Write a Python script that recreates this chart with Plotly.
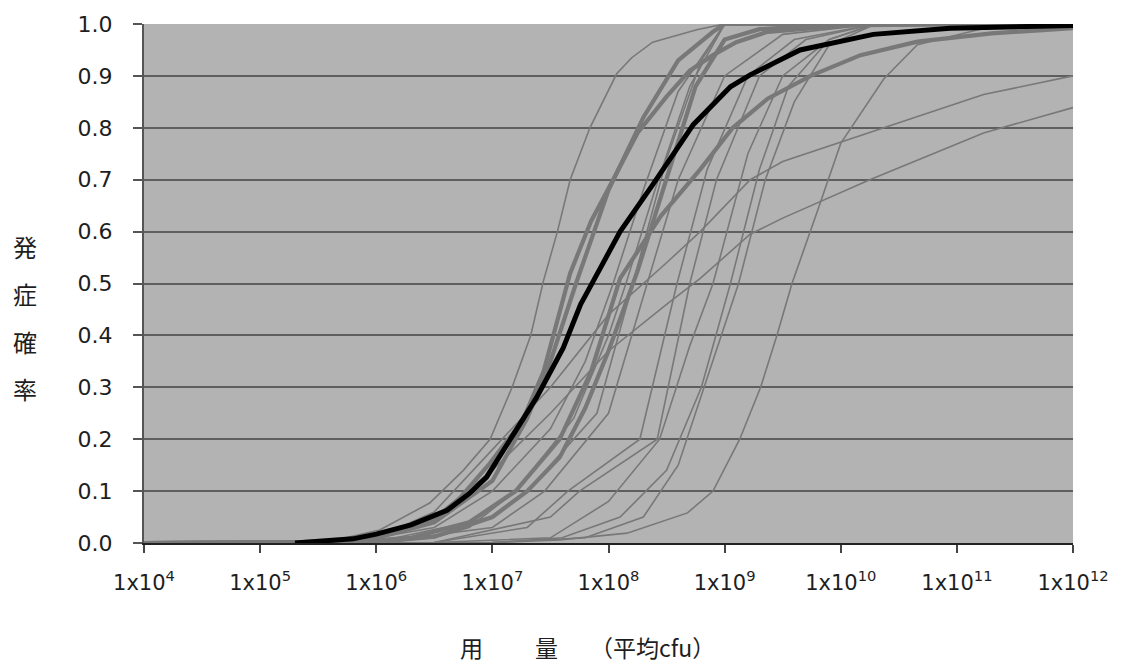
import plotly.graph_objects as go

# ---------------- data (log10 dose, probability) ----------------
mean_log_dose = [5.3, 5.6, 5.8, 6.0, 6.3, 6.61, 6.8, 6.95, 7.15, 7.38, 7.61, 7.76, 7.87, 8.1, 8.38, 8.73, 9.05, 9.22, 9.65, 10.28, 10.94, 12]
mean_prob     = [0.0, 0.004, 0.008, 0.017, 0.035, 0.063, 0.095, 0.127, 0.198, 0.28, 0.376, 0.46, 0.505, 0.6, 0.69, 0.806, 0.879, 0.902, 0.95, 0.98, 0.992, 0.997]

a_log_dose = [4, 5, 5.7, 6.03, 6.46, 6.75, 6.98, 7.17, 7.33, 7.44, 7.56, 7.67, 7.84, 8.07, 8.2, 8.38, 8.76, 9.0, 12]
a_prob     = [0, 0, 0.008, 0.025, 0.077, 0.14, 0.2, 0.3, 0.4, 0.505, 0.6, 0.7, 0.8, 0.904, 0.935, 0.965, 0.989, 1.0, 1.0]

b1_log_dose = [4, 5.5, 6.0, 6.3, 6.61, 6.98, 7.26, 7.44, 7.67, 7.85, 8.04, 8.25, 8.5, 8.7, 8.9, 9.1, 9.37, 10.08, 12]
b1_prob     = [0, 0.002, 0.012, 0.03, 0.058, 0.154, 0.236, 0.33, 0.52, 0.62, 0.70, 0.79, 0.86, 0.91, 0.94, 0.965, 0.985, 0.998, 1.0]

b2_log_dose = [4, 5.5, 6.0, 6.5, 7.0, 7.3, 7.5, 7.72, 8.0, 8.3, 8.6, 8.9, 9.0, 12]
b2_prob     = [0, 0.002, 0.01, 0.04, 0.12, 0.24, 0.35, 0.5, 0.68, 0.82, 0.93, 0.985, 1.0, 1.0]

c_log_dose = [4, 5.8, 6.3, 6.8, 7.2, 7.58, 7.85, 8.1, 8.45, 8.79, 9.07, 9.37, 9.74, 10.17, 10.66, 11.3, 12]
c_prob     = [0, 0.002, 0.01, 0.04, 0.1, 0.2, 0.33, 0.51, 0.63, 0.72, 0.80, 0.856, 0.90, 0.94, 0.966, 0.982, 0.992]

d_log_dose = [4, 6.0, 6.5, 7.0, 7.3, 7.58, 7.8, 8.0, 8.25, 8.5, 8.75, 9.0, 9.3, 10, 12]
d_prob     = [0, 0.002, 0.012, 0.05, 0.1, 0.165, 0.26, 0.37, 0.524, 0.7, 0.88, 0.97, 0.99, 1.0, 1.0]

e1_log_dose = [4, 5.5, 6.0, 6.5, 7.0, 7.5, 7.8, 8.04, 8.3, 8.6, 9.0, 12]
e1_prob     = [0, 0.002, 0.01, 0.03, 0.1, 0.22, 0.35, 0.5, 0.68, 0.87, 1.0, 1.0]

e2_log_dose = [4, 6.0, 6.5, 6.8, 7.2, 7.7, 8.0, 8.15, 8.4, 8.7, 9.0, 12]
e2_prob     = [0, 0.001, 0.01, 0.03, 0.1, 0.24, 0.4, 0.5, 0.68, 0.88, 1.0, 1.0]

e3_log_dose = [4, 6.0, 7.0, 7.3, 7.9, 8.21, 8.5, 8.8, 9.0, 12]
e3_prob     = [0, 0.002, 0.05, 0.1, 0.25, 0.5, 0.74, 0.93, 1.0, 1.0]

e4_log_dose = [4, 6.0, 7.0, 7.45, 8.0, 8.33, 8.6, 9.0, 9.5, 10.3, 12]
e4_prob     = [0, 0.001, 0.03, 0.1, 0.25, 0.5, 0.7, 0.9, 0.98, 1.0, 1.0]

e5_log_dose = [4, 6.5, 7.3, 7.65, 8.27, 8.59, 8.85, 9.2, 9.6, 10.3, 12]
e5_prob     = [0, 0.001, 0.03, 0.1, 0.2, 0.5, 0.72, 0.9, 0.97, 1.0, 1.0]

e6_log_dose = [4, 6.5, 7.5, 7.75, 8.42, 8.70, 8.93, 9.3, 9.7, 10.3, 12]
e6_prob     = [0, 0.001, 0.05, 0.1, 0.2, 0.5, 0.7, 0.9, 0.97, 1.0, 1.0]

e7_log_dose = [4, 6.5, 7.5, 8.0, 8.44, 8.7, 8.9, 9.2, 9.5, 9.9, 10.3, 12]
e7_prob     = [0, 0.001, 0.01, 0.08, 0.2, 0.38, 0.5, 0.75, 0.9, 0.97, 1.0, 1.0]

e8_log_dose = [4, 7.0, 7.6, 8.1, 8.5, 8.8, 9.05, 9.3, 9.55, 9.9, 10.3, 12]
e8_prob     = [0, 0.001, 0.01, 0.05, 0.14, 0.3, 0.5, 0.72, 0.88, 0.97, 1.0, 1.0]

e9_log_dose = [4, 7.0, 7.8, 8.3, 8.6, 8.9, 9.12, 9.35, 9.6, 9.9, 10.3, 12]
e9_prob     = [0, 0.001, 0.01, 0.05, 0.15, 0.35, 0.5, 0.7, 0.85, 0.96, 1.0, 1.0]

r_log_dose = [4, 7.0, 7.58, 8.16, 8.68, 8.90, 9.13, 9.31, 9.45, 9.58, 9.8, 10.0, 10.37, 10.66, 11.2, 12]
r_prob     = [0, 0.001, 0.006, 0.019, 0.058, 0.1, 0.2, 0.3, 0.4, 0.5, 0.64, 0.77, 0.894, 0.96, 0.99, 1.0]

s1_log_dose = [4, 5.5, 6.0, 6.5, 7.0, 7.5, 8.0, 8.5, 8.79, 9.22, 9.5, 10.37, 11.23, 12]
s1_prob     = [0, 0.002, 0.01, 0.06, 0.18, 0.3, 0.44, 0.54, 0.6, 0.70, 0.735, 0.80, 0.864, 0.90]

s2_log_dose = [4, 5.5, 6.0, 6.5, 7.0, 7.5, 8.0, 8.5, 8.79, 9.22, 9.5, 10.25, 11.23, 12]
s2_prob     = [0, 0.002, 0.01, 0.05, 0.14, 0.25, 0.37, 0.46, 0.51, 0.595, 0.626, 0.70, 0.79, 0.839]

x_tick_exponents = [4, 5, 6, 7, 8, 9, 10, 11, 12]
y_tick_values = [0.0, 0.1, 0.2, 0.3, 0.4, 0.5, 0.6, 0.7, 0.8, 0.9, 1.0]

# ---------------- figure ----------------
GRAY = "#787878"
thin_curves = [
    (a_log_dose, a_prob), (e1_log_dose, e1_prob), (e2_log_dose, e2_prob),
    (e3_log_dose, e3_prob), (e4_log_dose, e4_prob), (e5_log_dose, e5_prob),
    (e6_log_dose, e6_prob), (e7_log_dose, e7_prob), (e8_log_dose, e8_prob),
    (e9_log_dose, e9_prob), (r_log_dose, r_prob), (s1_log_dose, s1_prob),
    (s2_log_dose, s2_prob),
]
thick_curves = [
    (b1_log_dose, b1_prob), (b2_log_dose, b2_prob),
    (c_log_dose, c_prob), (d_log_dose, d_prob),
]

fig = go.Figure()
for lx, p in thin_curves:
    fig.add_trace(go.Scatter(x=[10 ** v for v in lx], y=p, mode="lines",
                             line=dict(color=GRAY, width=1.6), showlegend=False,
                             hoverinfo="skip"))
for lx, p in thick_curves:
    fig.add_trace(go.Scatter(x=[10 ** v for v in lx], y=p, mode="lines",
                             line=dict(color=GRAY, width=4.2), showlegend=False,
                             hoverinfo="skip"))
fig.add_trace(go.Scatter(x=[10 ** v for v in mean_log_dose], y=mean_prob, mode="lines",
                         line=dict(color="#000000", width=5), showlegend=False,
                         hoverinfo="skip"))

L, R, T, B = 144, 49, 22, 126
W, H = 1122, 669
pw, ph = W - L - R, H - T - B

def px_to_paper(px, py):
    return (px - L) / pw, (H - B - py) / ph

fig.update_layout(
    width=W, height=H,
    margin=dict(l=L, r=R, t=T, b=B, pad=0),
    paper_bgcolor="white",
    plot_bgcolor="#b3b3b3",
    font=dict(family="DejaVu Sans, Arial, sans-serif", size=21, color="#1e1e1e"),
    showlegend=False,
)
fig.update_xaxes(
    type="log", range=[4, 12],
    tickvals=[10 ** e for e in x_tick_exponents],
    ticktext=[f"1x10<sup>{e}</sup>" for e in x_tick_exponents],
    showgrid=False, zeroline=False,
    showline=True, linecolor="#222222", linewidth=2,
    ticks="outside", ticklen=8, tickwidth=1.5, tickcolor="#444444",
    ticklabelstandoff=12,
    tickfont=dict(size=21),
)
fig.update_yaxes(
    range=[0, 1.0],
    tickvals=y_tick_values,
    ticktext=[f"{v:.1f}" for v in y_tick_values],
    showgrid=True, gridcolor="#5e5e5e", gridwidth=2,
    zeroline=False,
    showline=True, linecolor="#555555", linewidth=2,
    ticks="outside", ticklen=9, tickwidth=1.5, tickcolor="#555555",
    ticklabelstandoff=16,
    tickfont=dict(size=22),
)

cjk = "Noto Sans CJK JP"
for ch, py in zip(["発", "症", "確", "率"], [245, 293, 341, 388]):
    xp, yp = px_to_paper(25, py)
    fig.add_annotation(text=ch, x=xp, y=yp, xref="paper", yref="paper",
                       xanchor="center", yanchor="middle", showarrow=False,
                       font=dict(family=cjk, size=24, color="#1e1e1e"))

for txt, px in [("用", 471), ("量", 546), ("（平均cfu）", 652)]:
    xp, yp = px_to_paper(px, 647)
    fig.add_annotation(text=txt, x=xp, y=yp, xref="paper", yref="paper",
                       xanchor="center", yanchor="middle", showarrow=False,
                       font=dict(family=cjk, size=23, color="#1e1e1e"))

fig.write_html("out.html",
               config={"displayModeBar": False},
               post_script="document.body.style.margin='0';document.body.style.overflow='hidden';")
